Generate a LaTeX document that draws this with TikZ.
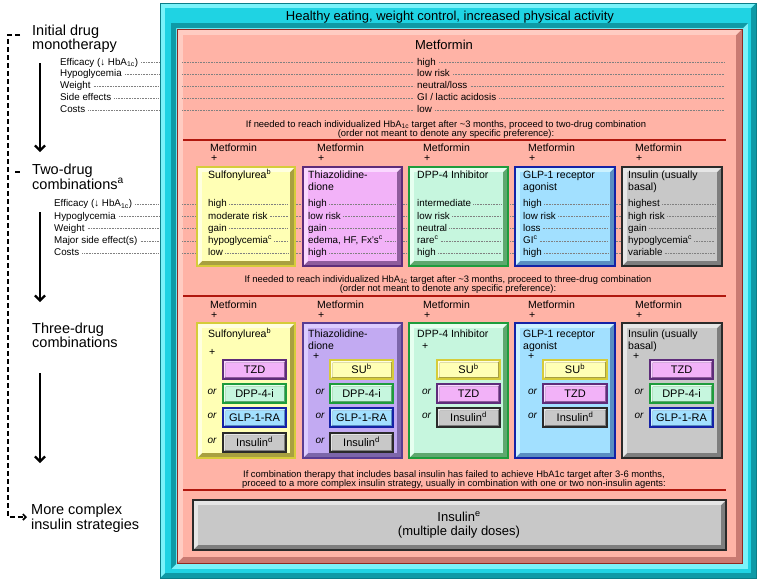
\documentclass[tikz,border=0pt]{standalone}
\usepackage{fontspec}
\setmainfont{Liberation Sans}
\usetikzlibrary{arrows.meta}
\definecolor{cyF}{HTML}{1FD3E3}\definecolor{cyL}{HTML}{7AF3FA}\definecolor{cyD}{HTML}{0E9AA6}\definecolor{cyB}{HTML}{0A7E88}
\definecolor{saF}{HTML}{FFB3A6}\definecolor{saL}{HTML}{FFCCC2}\definecolor{saD}{HTML}{C97A72}\definecolor{saB}{HTML}{8E2A22}
\definecolor{redline}{HTML}{B0170E}
\definecolor{yeF}{HTML}{FFFFB5}\definecolor{yeL}{HTML}{FFFFE0}\definecolor{yeD}{HTML}{A8A040}\definecolor{yeB}{HTML}{D6CC3A}
\definecolor{pvF}{HTML}{F2B2F8}\definecolor{pvL}{HTML}{FAD8FF}\definecolor{pvD}{HTML}{8E5C9C}\definecolor{pvB}{HTML}{5E2C7A}
\definecolor{lvF}{HTML}{C2AAF2}\definecolor{lvL}{HTML}{DCCCFF}\definecolor{lvD}{HTML}{7C66AA}\definecolor{lvB}{HTML}{5A3C92}
\definecolor{grF}{HTML}{C6F6DE}\definecolor{grL}{HTML}{E6FFF0}\definecolor{grD}{HTML}{5EA86E}\definecolor{grB}{HTML}{1E9C3C}
\definecolor{blF}{HTML}{A2E0FF}\definecolor{blL}{HTML}{CCF2FF}\definecolor{blD}{HTML}{5A8EC2}\definecolor{blB}{HTML}{1422A6}
\definecolor{gyF}{HTML}{C8C8C8}\definecolor{gyL}{HTML}{E6E6E6}\definecolor{gyD}{HTML}{7E7E7E}\definecolor{gyB}{HTML}{2A2A2A}
\newcommand\bvbox[7]{%
  \fill[#6D] (#1,#2) rectangle (#3,#4);
  \fill[#6L] (#1,#2) -- (#3,#2) -- ({#3-#5},{#2+#5}) -- ({#1+#5},{#2+#5}) -- ({#1+#5},{#4-#5}) -- (#1,#4) -- cycle;
  \fill[#6F] ({#1+#5},{#2+#5}) rectangle ({#3-#5},{#4-#5});
  \draw[#6B, line width=#7] (#1,#2) rectangle (#3,#4);
}
\newcommand\subbx[6]{%
  \bvbox{#2}{#3-9.5}{#4}{#3+9.5}{2.5}{#5}{1.6}
  \node[subt] (#1) at ({(#2+#4)/2},#3) {#6};
}
\newcommand\vrow[5]{%
  \node[val] (#1) at (#2,#3) {#4};
  \draw[dotl] ([xshift=2pt]#1.east) -- (#5,#3);
}
\begin{document}
\begin{tikzpicture}[x=1pt,y=-1pt,
  lbl/.style={inner sep=0pt, anchor=west, font=\fontsize{9.8}{11}\selectfont, text height=7pt, text depth=2pt},
  val/.style={lbl},
  big/.style={inner sep=0pt, anchor=north west, align=left, font=\fontsize{14.5}{14.5}\selectfont},
  instr/.style={inner sep=0pt, align=center, font=\fontsize{9.4}{9}\selectfont},
  hdr/.style={inner sep=0pt, anchor=base west, font=\fontsize{10.5}{12}\selectfont},
  subt/.style={inner sep=0pt, font=\fontsize{11}{12}\selectfont, text height=7.8pt, text depth=0pt},
  ortxt/.style={inner sep=0pt, font=\fontsize{10}{12}\selectfont\itshape},
  dotl/.style={draw=gray, line width=0.5pt, dash pattern=on 0.8pt off 0.8pt},
  redl/.style={draw=redline, line width=2.6pt},
  arr/.style={line width=2.2pt, -{Straight Barb[length=5pt,width=10pt]}},
  dsh/.style={line width=1.6pt, dash pattern=on 5pt off 3pt, -{Straight Barb[length=3pt,width=6pt]}}]
\useasboundingbox (0,0) rectangle (757,579);
\fill[white] (0,0) rectangle (757,579);
% cyan frame
\bvbox{160}{3}{756}{578}{5}{cy}{1}
\fill[cyL] (171,23) rectangle (748,569);
\fill[cyD] (171,23) -- (748,23) -- (743,28) -- (176,28) -- (176,564) -- (171,569) -- cycle;
\node[inner sep=0pt, font=\fontsize{13}{14}\selectfont] (healthy) at (450,17) {Healthy eating, weight control, increased physical activity};
% salmon
\bvbox{177}{29}{742}{563}{6}{sa}{0.8}
\node[inner sep=0pt, font=\fontsize{13}{14}\selectfont] (met) at (444,45) {Metformin};
% left labels
\node[big] (lab1) at (32,24.5) {Initial drug\\monotherapy};
\node[big] (lab2) at (32,164) {Two-drug\\combinations\textsuperscript{a}};
\node[big] (lab3) at (32,322.5) {Three-drug\\combinations};
\node[big] (lab4) at (31,504) {More complex\\insulin strategies};
\coordinate (a1s) at (40,63); \coordinate (a1e) at (40,152);
\coordinate (a2s) at (40,212); \coordinate (a2e) at (40,302);
\coordinate (a3s) at (40,373); \coordinate (a3e) at (40,463);
\draw[arr] (a1s) -- (a1e);
\draw[arr] (a2s) -- (a2e);
\draw[arr] (a3s) -- (a3e);
\coordinate (d0) at (20,35); \coordinate (d1) at (8,35); \coordinate (d2) at (8,517); \coordinate (d3) at (27,517);
\draw[dsh] (d0) -- (d1) -- (d2) -- (d3);
\coordinate (t0) at (15,172); \coordinate (t1) at (20,172);
\draw[line width=1.6pt] (t0) -- (t1);
\coordinate (cyl) at (159,0); \coordinate (sal) at (182,0); \coordinate (sar) at (724,0); \coordinate (sbr) at (716,0);
% metformin rows
\foreach \n/\y/\l/\v in {1/62.5/{Efficacy (↓ HbA\textsubscript{1c})}/{high}, 2/74/{Hypoglycemia}/{low risk}, 3/86/{Weight}/{neutral/loss}, 4/98/{Side effects}/{GI / lactic acidosis}, 5/110/{Costs}/{low}}{
  \node[lbl] (ml\n) at (60,\y) {\l};
  \node[val] (mv\n) at (417,\y) {\v};
  \draw[dotl] ([xshift=3pt]ml\n.east) -- (ml\n.east -| cyl);
  \draw[dotl] (mv\n.west -| sal) -- ([xshift=-3pt]mv\n.west);
  \draw[dotl] ([xshift=3pt]mv\n.east) -- (mv\n.east -| sar);
}
\node[instr] (ins1) at (446,129.5) {If needed to reach individualized HbA\textsubscript{1c} target after \textasciitilde3 months, proceed to two-drug combination\\(order not meant to denote any specific preference):};
\coordinate (r1a) at (183,140); \coordinate (r1b) at (726,140);
\draw[redl] (r1a) -- (r1b);
% two-drug labels
\foreach \n/\y/\l in {1/204/{Efficacy (↓ HbA\textsubscript{1c})}, 2/216.5/{Hypoglycemia}, 3/228.5/{Weight}, 4/241/{Major side effect(s)}, 5/253/{Costs}}{
  \node[lbl] (tl\n) at (54,\y) {\l};
  \draw[dotl] ([xshift=3pt]tl\n.east) -- (tl\n.east -| cyl);
  \draw[dotl] (tl\n.east -| sal) -- (tl\n.east -| sbr);
}
% headers
\foreach \c/\x in {A/210,B/317,C/423,D/528,E/635}{
  \node[hdr] (hm\c) at (\x,151.5) {Metformin};
  \node[hdr] (hp\c) at ({\x+1},161.5) {+};
  \node[hdr] (km\c) at (\x,308) {Metformin};
  \node[hdr] (kp\c) at ({\x+1},318.5) {+};
}
% two-drug boxes
\bvbox{197}{167}{295}{266}{5}{ye}{1.5}
\bvbox{303}{167}{402}{266}{5}{pv}{1.5}
\bvbox{409}{167}{508}{266}{5}{gr}{1.5}
\bvbox{515}{167}{615}{266}{5}{bl}{1.5}
\bvbox{622}{167}{722}{266}{5}{gy}{1.5}
\node[hdr] (tA) at (208,178) {Sulfonylurea\textsuperscript{b}};
\node[hdr] (tB) at (308,178) {Thiazolidine-};
\node[hdr] (tB2) at (308,190) {dione};
\node[hdr] (tC) at (417,178) {DPP-4 Inhibitor};
\node[hdr] (tD) at (523,178) {GLP-1 receptor};
\node[hdr] (tD2) at (523,190) {agonist};
\node[hdr] (tE) at (628,178) {Insulin (usually};
\node[hdr] (tE2) at (628,190) {basal)};
\vrow{vA1}{208}{204}{high}{288}
\vrow{vA2}{208}{216.5}{moderate risk}{288}
\vrow{vA3}{208}{228.5}{gain}{288}
\vrow{vA4}{208}{241}{hypoglycemia\textsuperscript{c}}{288}
\vrow{vA5}{208}{253}{low}{288}
\vrow{vB1}{308}{204}{high}{395}
\vrow{vB2}{308}{216.5}{low risk}{395}
\vrow{vB3}{308}{228.5}{gain}{395}
\vrow{vB4}{308}{241}{edema, HF, Fx's\textsuperscript{c}}{395}
\vrow{vB5}{308}{253}{high}{395}
\vrow{vC1}{417}{204}{intermediate}{501}
\vrow{vC2}{417}{216.5}{low risk}{501}
\vrow{vC3}{417}{228.5}{neutral}{501}
\vrow{vC4}{417}{241}{rare\textsuperscript{c}}{501}
\vrow{vC5}{417}{253}{high}{501}
\vrow{vD1}{523}{204}{high}{608}
\vrow{vD2}{523}{216.5}{low risk}{608}
\vrow{vD3}{523}{228.5}{loss}{608}
\vrow{vD4}{523}{241}{GI\textsuperscript{c}}{608}
\vrow{vD5}{523}{253}{high}{608}
\vrow{vE1}{628}{204}{highest}{715}
\vrow{vE2}{628}{216.5}{high risk}{715}
\vrow{vE3}{628}{228.5}{gain}{715}
\vrow{vE4}{628}{241}{hypoglycemia\textsuperscript{c}}{715}
\vrow{vE5}{628}{253}{variable}{715}
\node[instr] (ins2) at (448,284.5) {If needed to reach individualized HbA\textsubscript{1c} target after \textasciitilde3 months, proceed to three-drug combination\\(order not meant to denote any specific preference):};
\coordinate (r2a) at (183,296); \coordinate (r2b) at (726,296);
\draw[redl] (r2a) -- (r2b);
% three-drug boxes
\bvbox{197}{323}{295}{458}{5}{ye}{1.5}
\bvbox{303}{323}{402}{458}{5}{lv}{1.5}
\bvbox{409}{323}{508}{458}{5}{gr}{1.5}
\bvbox{515}{323}{615}{458}{5}{bl}{1.5}
\bvbox{622}{323}{722}{458}{5}{gy}{1.5}
\node[hdr] (uA) at (208,337) {Sulfonylurea\textsuperscript{b}};
\node[hdr] (uAp) at (209,355) {+};
\node[hdr] (uB) at (308,337) {Thiazolidine-};
\node[hdr] (uB2) at (308,349) {dione};
\node[hdr] (uBp) at (313,359) {+};
\node[hdr] (uC) at (417,337) {DPP-4 Inhibitor};
\node[hdr] (uCp) at (422,349) {+};
\node[hdr] (uD) at (523,337) {GLP-1 receptor};
\node[hdr] (uD2) at (523,349) {agonist};
\node[hdr] (uDp) at (528,359) {+};
\node[hdr] (uE) at (628,337) {Insulin (usually};
\node[hdr] (uE2) at (628,349) {basal)};
\node[hdr] (uEp) at (633,359) {+};
% sub boxes
\subbx{sA1}{223}{369.5}{286}{pv}{TZD}
\subbx{sA2}{223}{393.5}{286}{gr}{DPP-4-i}
\subbx{sA3}{223}{417.5}{286}{bl}{GLP-1-RA}
\subbx{sA4}{223}{442.5}{286}{gy}{Insulin\textsuperscript{d}}
\subbx{sB1}{330}{369.5}{393}{ye}{SU\textsuperscript{b}}
\subbx{sB2}{330}{393.5}{393}{gr}{DPP-4-i}
\subbx{sB3}{330}{417.5}{393}{bl}{GLP-1-RA}
\subbx{sB4}{330}{442.5}{393}{gy}{Insulin\textsuperscript{d}}
\subbx{sC1}{437}{369.5}{500}{ye}{SU\textsuperscript{b}}
\subbx{sC2}{437}{393.5}{500}{pv}{TZD}
\subbx{sC3}{437}{417.5}{500}{gy}{Insulin\textsuperscript{d}}
\subbx{sD1}{543}{369.5}{607}{ye}{SU\textsuperscript{b}}
\subbx{sD2}{543}{393.5}{607}{pv}{TZD}
\subbx{sD3}{543}{417.5}{607}{gy}{Insulin\textsuperscript{d}}
\subbx{sE1}{650}{369.5}{713}{pv}{TZD}
\subbx{sE2}{650}{393.5}{713}{gr}{DPP-4-i}
\subbx{sE3}{650}{417.5}{713}{bl}{GLP-1-RA}
\node[ortxt] (oA2) at (212,391.5) {or};
\node[ortxt] (oA3) at (212,415.5) {or};
\node[ortxt] (oA4) at (212,440.5) {or};
\node[ortxt] (oB2) at (320,391.5) {or};
\node[ortxt] (oB3) at (320,415.5) {or};
\node[ortxt] (oB4) at (320,440.5) {or};
\node[ortxt] (oC2) at (426.5,391.5) {or};
\node[ortxt] (oC3) at (426.5,415.5) {or};
\node[ortxt] (oD2) at (532.5,391.5) {or};
\node[ortxt] (oD3) at (532.5,415.5) {or};
\node[ortxt] (oE2) at (639,391.5) {or};
\node[ortxt] (oE3) at (639,415.5) {or};
% bottom
\node[instr] (ins3) at (454,479.5) {If combination therapy that includes basal insulin has failed to achieve HbA1c target after 3-6 months,\\proceed to a more complex insulin strategy, usually in combination with one or two non-insulin agents:};
\coordinate (r3a) at (183,490); \coordinate (r3b) at (726,490);
\draw[redl] (r3a) -- (r3b);
\bvbox{193}{500}{726}{550}{5}{gy}{1.8}
\node[inner sep=0pt, align=center, font=\fontsize{13}{14.5}\selectfont] (ins) at (459,525) {Insulin\textsuperscript{e}\\(multiple daily doses)};
\end{tikzpicture}
\end{document}
